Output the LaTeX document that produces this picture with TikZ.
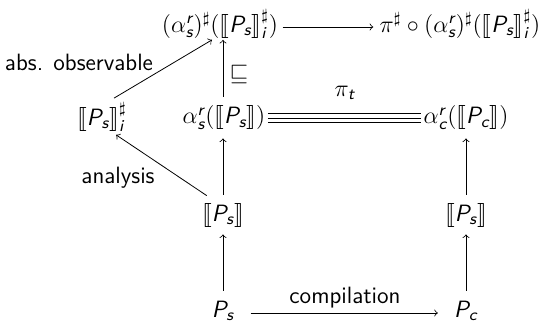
\documentclass[tikz,border=0pt]{standalone}
\usepackage{amsmath,amssymb}
\usepackage{stmaryrd}
\usepackage{fontspec}
\usetikzlibrary{calc}
\renewcommand{\familydefault}{\sfdefault}
\newcommand{\si}[1]{\text{\sffamily\itshape #1}}
\newcommand{\Ps}{\si{P}_{\si{s}}}
\newcommand{\Pc}{\si{P}_{\si{c}}}
\newcommand{\sem}[1]{\llbracket #1\rrbracket}
\begin{document}
\begin{tikzpicture}[x=0.5pt,y=-0.5pt,
  every node/.style={font=\fontsize{11.8}{14}\selectfont\sffamily, inner sep=1pt},
  arr/.style={->, line width=0.4pt}]
\useasboundingbox (0,0) rectangle (548,322);
\node (A) at (220,24) {$(\alpha_{\si{s}}^{\si{r}})^\sharp(\sem{\Ps}_{\si{i}}^\sharp)$};
\node (B) at (460,24) {$\pi^\sharp\circ(\alpha_{\si{s}}^{\si{r}})^\sharp(\sem{\Ps}_{\si{i}}^\sharp)$};
\node (C) at (102,117) {$\sem{\Ps}_{\si{i}}^\sharp$};
\node (D) at (224,118) {$\alpha_{\si{s}}^{\si{r}}(\sem{\Ps})$};
\node (F) at (466,118) {$\alpha_{\si{c}}^{\si{r}}(\sem{\Pc})$};
\node (E) at (223,215) {$\sem{\Ps}$};
\node (G) at (466,215) {$\sem{\Ps}$};
\node (H) at (223,311) {$\Ps$};
\node (I) at (466,311) {$\Pc$};
\draw[arr] ($(A.east)+(2,3)$) -- ($(B.west)+(-4,3)$);
\draw[arr] ($(C.north)+(12,-2)$) -- ($(A.south)+(-8,-1)$);
\draw[arr] ($(E.north west)+(7,-5)$) -- ($(C.south east)+(-13,1)$);
\draw[arr] (E.north -| 223,0) ++(0,-6) -- ($(D.south -| 223,0)+(0,6)$);
\draw[arr] ($(D.north -| 223,0)+(0,-7)$) -- ($(A.south -| 223,0)+(0,-1)$);
\draw[arr] ($(H.north)+(0,-8)$) -- ($(E.south)+(0,5)$);
\draw[arr] ($(G.north)+(0,-6)$) -- ($(F.south)+(0,6)$);
\draw[arr] ($(I.north)+(0,-8)$) -- ($(G.south)+(0,5)$);
\draw[arr] ($(H.east)+(14,2)$) -- ($(I.west)+(-14,2)$);
\draw[line width=0.4pt] ([yshift=2.2pt]D.east) -- ([yshift=2.2pt]F.west)
  (D.east) -- (F.west)
  ([yshift=-2.2pt]D.east) -- ([yshift=-2.2pt]F.west);
\node (l1) at (79,62) {abs. observable};
\node (l2) at (118,178) {analysis};
\node (l3) at (239,74) {$\sqsubseteq$};
\node (l4) at (345,93) {$\pi_{\si{t}}$};
\node (l5) at (345,298) {compilation};
\end{tikzpicture}
\end{document}
